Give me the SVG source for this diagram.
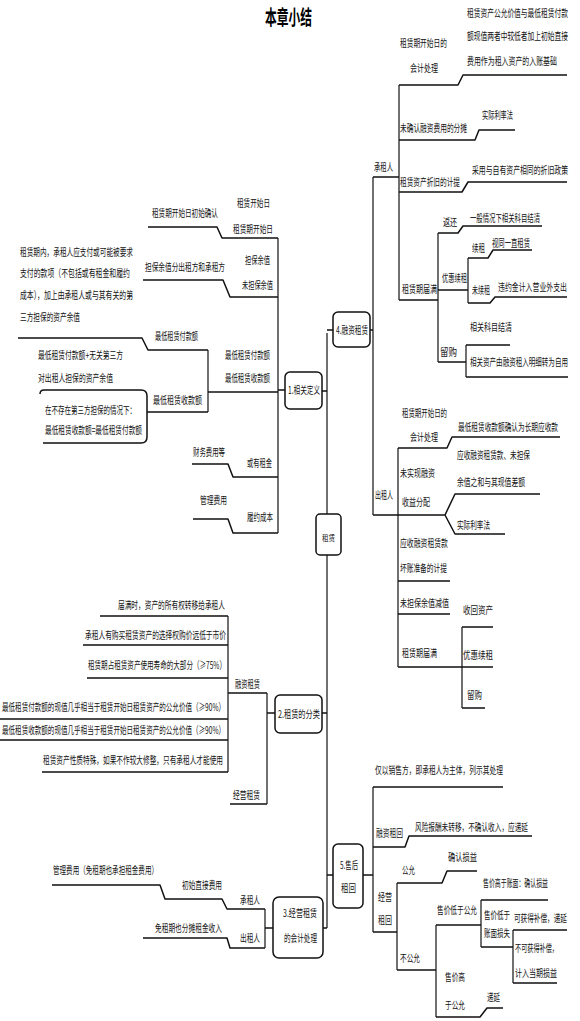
<svg xmlns="http://www.w3.org/2000/svg" width="580" height="1021" viewBox="0 0 580 1021">
<style>
.t{font-family:"Noto Sans CJK SC","Noto Sans",sans-serif;font-size:10.5px;fill:#111;dominant-baseline:central;transform-box:fill-box;transform-origin:left center;transform:scaleX(0.64)}
.h{font-family:"Noto Sans CJK SC","Noto Sans",sans-serif;font-size:20px;font-weight:bold;fill:#000;dominant-baseline:central;transform-box:fill-box;transform-origin:left center;transform:scaleX(0.64)}
.c{fill:none;stroke:#111;stroke-width:1.5;stroke-linejoin:round}
.v{fill:none;stroke:#111;stroke-width:1.2}
.b{fill:#fff;stroke:#111;stroke-width:1.5}
</style>
<rect width="580" height="1021" fill="#fff"/>
<text class="h" x="265" y="17" textLength="73.4" lengthAdjust="spacingAndGlyphs">本章小结</text>

<g id="connectors">
<path class="v" d="M327,333V928"/>
<path class="c" d="M322,391H327M327,330H333M322,713H327M327,875H333M323,928H327"/>
<path class="c" d="M370,330H373"/>
<path class="v" d="M373,177V515"/>
<path class="c" d="M373,177H399M373,515H398"/>
<path class="v" d="M399,85V300"/>
<path class="c" d="M399,85H458L463,75H567"/>
<path class="c" d="M399,140H475L479,130H515"/>
<path class="c" d="M399,192H462L468,182H567"/>
<path class="c" d="M399,300H438"/>
<path class="v" d="M438,233V362"/>
<path class="c" d="M438,233H458L463,226H542"/>
<path class="c" d="M438,290H468"/>
<path class="v" d="M468,258V303"/>
<path class="c" d="M468,258H488L493,250H532"/>
<path class="c" d="M468,303H490L495,297H567"/>
<path class="c" d="M438,362H466"/>
<path class="v" d="M466,345V377"/>
<path class="c" d="M466,345H510M466,377H568"/>
<path class="v" d="M398,448V667"/>
<path class="c" d="M398,448H447L452,437H560"/>
<path class="c" d="M398,515H445M445,515L455,494H540M445,515L455,534H505"/>
<path class="c" d="M398,581H450M398,614H450M398,667H493"/>
<path class="v" d="M462,627V708"/>
<path class="c" d="M462,627H493M462,708H485"/>
<path class="c" d="M285,390H278"/>
<path class="v" d="M278,238V533"/>
<path class="c" d="M278,238H222L217,227H148"/>
<path class="c" d="M278,297H230L223,280H143"/>
<path class="c" d="M278,392H208"/>
<path class="v" d="M208,350V412"/>
<path class="c" d="M208,350H148L142,338H18M208,412H147"/>
<path class="c" d="M40,394Q40,390 44,390H141Q147,390 147,396V437Q147,443 141,443H43"/>
<path class="c" d="M278,477H233L228,464H192"/>
<path class="c" d="M278,533H233L228,519H193"/>
<path class="c" d="M275,713H267"/>
<path class="v" d="M267,693V804"/>
<path class="c" d="M267,693H228M267,804H230"/>
<path class="v" d="M228,616V772"/>
<path class="c" d="M228,616H100M228,645H83M228,678H87M228,719H0M228,740H0M228,772H42"/>
<path class="c" d="M363,875H373"/>
<path class="v" d="M373,787V932"/>
<path class="c" d="M373,787H503"/>
<path class="c" d="M373,847H405L409,836H532"/>
<path class="c" d="M373,932H397"/>
<path class="v" d="M397,883V970"/>
<path class="c" d="M397,883H442L447,871H477"/>
<path class="c" d="M397,970H436"/>
<path class="v" d="M436,925V1017"/>
<path class="c" d="M436,925H481"/>
<path class="v" d="M481,900V947"/>
<path class="c" d="M481,900H548M481,947H513"/>
<path class="v" d="M513,930V983"/>
<path class="c" d="M513,930H567M513,983H557"/>
<path class="c" d="M436,1017H480L487,1008H503"/>
<path class="c" d="M273,928H265"/>
<path class="v" d="M265,909V948"/>
<path class="c" d="M265,909H227L222,899H165L160,885H52"/>
<path class="c" d="M265,948H230L227,938H143"/>
</g>

<g id="root"><rect class="b" x="316" y="514" width="25" height="41" rx="4"/><text class="t" x="322" y="537" style="font-size:8.5px" textLength="20.3" lengthAdjust="spacingAndGlyphs">租赁</text></g>

<g id="n4"><rect class="b" x="333" y="312" width="37" height="35" rx="5"/><text class="t" x="336" y="330" textLength="50" lengthAdjust="spacingAndGlyphs">4.融资租赁</text></g>
<g id="n4-lessee"><text class="t" x="374" y="167" textLength="29.7" lengthAdjust="spacingAndGlyphs">承租人</text></g>
<g id="n4-l1"><text class="t" x="400" y="43" textLength="73.4" lengthAdjust="spacingAndGlyphs">租赁期开始日的</text><text class="t" x="410" y="68" textLength="43.8" lengthAdjust="spacingAndGlyphs">会计处理</text></g>
<g id="n4-l1a"><text class="t" x="467" y="13" textLength="157.8" lengthAdjust="spacingAndGlyphs">租赁资产公允价值与最低租赁付款</text><text class="t" x="467" y="36" textLength="157.8" lengthAdjust="spacingAndGlyphs">额现值两者中较低者加上初始直接</text><text class="t" x="467" y="61" textLength="140.6" lengthAdjust="spacingAndGlyphs">费用作为租入资产的入账基础</text></g>
<g id="n4-l2"><text class="t" x="400" y="128" textLength="104.7" lengthAdjust="spacingAndGlyphs">未确认融资费用的分摊</text></g>
<g id="n4-l2a"><text class="t" x="482" y="115" textLength="48.4" lengthAdjust="spacingAndGlyphs">实际利率法</text></g>
<g id="n4-l3"><text class="t" x="400" y="182" textLength="93.8" lengthAdjust="spacingAndGlyphs">租赁资产折旧的计提</text></g>
<g id="n4-l3a"><text class="t" x="472" y="170" textLength="150" lengthAdjust="spacingAndGlyphs">采用与自有资产相同的折旧政策</text></g>
<g id="n4-l4"><text class="t" x="402" y="289" textLength="54.7" lengthAdjust="spacingAndGlyphs">租赁期届满</text></g>
<g id="n4-l4a"><text class="t" x="443" y="222" textLength="21.9" lengthAdjust="spacingAndGlyphs">返还</text></g>
<g id="n4-l4a1"><text class="t" x="470" y="218" textLength="109.4" lengthAdjust="spacingAndGlyphs">一般情况下相关科目结清</text></g>
<g id="n4-l4b"><text class="t" x="442" y="278" textLength="39.1" lengthAdjust="spacingAndGlyphs">优惠续租</text></g>
<g id="n4-l4b1"><text class="t" x="472" y="248" textLength="20.3" lengthAdjust="spacingAndGlyphs">续租</text></g>
<g id="n4-l4b1a"><text class="t" x="492" y="243" textLength="59.4" lengthAdjust="spacingAndGlyphs">视同一直租赁</text></g>
<g id="n4-l4b2"><text class="t" x="472" y="290" textLength="28.1" lengthAdjust="spacingAndGlyphs">未续租</text></g>
<g id="n4-l4b2a"><text class="t" x="498" y="287" textLength="107.8" lengthAdjust="spacingAndGlyphs">违约金计入营业外支出</text></g>
<g id="n4-l4c"><text class="t" x="440" y="352" textLength="26.6" lengthAdjust="spacingAndGlyphs">留购</text></g>
<g id="n4-l4c1"><text class="t" x="470" y="327" textLength="65.6" lengthAdjust="spacingAndGlyphs">相关科目结清</text></g>
<g id="n4-l4c2"><text class="t" x="470" y="362" textLength="153.1" lengthAdjust="spacingAndGlyphs">相关资产由融资租入明细转为自用</text></g>

<g id="n4-lessor"><text class="t" x="375" y="495" textLength="28.1" lengthAdjust="spacingAndGlyphs">出租人</text></g>
<g id="n4-r1"><text class="t" x="402" y="413" textLength="70.3" lengthAdjust="spacingAndGlyphs">租赁期开始日的</text><text class="t" x="410" y="437" textLength="43.8" lengthAdjust="spacingAndGlyphs">会计处理</text></g>
<g id="n4-r1a"><text class="t" x="458" y="427" textLength="156.3" lengthAdjust="spacingAndGlyphs">最低租赁收款额确认为长期应收款</text></g>
<g id="n4-r2"><text class="t" x="400" y="473" textLength="54.7" lengthAdjust="spacingAndGlyphs">未实现融资</text><text class="t" x="402" y="502" textLength="43.8" lengthAdjust="spacingAndGlyphs">收益分配</text></g>
<g id="n4-r2a"><text class="t" x="457" y="455" textLength="114.1" lengthAdjust="spacingAndGlyphs">应收融资租赁款、未担保</text><text class="t" x="457" y="482" textLength="106.3" lengthAdjust="spacingAndGlyphs">余值之和与其现值差额</text></g>
<g id="n4-r2b"><text class="t" x="457" y="525" textLength="51.6" lengthAdjust="spacingAndGlyphs">实际利率法</text></g>
<g id="n4-r3"><text class="t" x="400" y="543" textLength="75" lengthAdjust="spacingAndGlyphs">应收融资租赁款</text><text class="t" x="400" y="568" textLength="73.4" lengthAdjust="spacingAndGlyphs">坏账准备的计提</text></g>
<g id="n4-r4"><text class="t" x="400" y="603" textLength="76.6" lengthAdjust="spacingAndGlyphs">未担保余值减值</text></g>
<g id="n4-r5"><text class="t" x="402" y="653" textLength="54.7" lengthAdjust="spacingAndGlyphs">租赁期届满</text></g>
<g id="n4-r5a"><text class="t" x="463" y="610" textLength="46.9" lengthAdjust="spacingAndGlyphs">收回资产</text></g>
<g id="n4-r5b"><text class="t" x="463" y="655" textLength="46.9" lengthAdjust="spacingAndGlyphs">优惠续租</text></g>
<g id="n4-r5c"><text class="t" x="467" y="695" textLength="23.4" lengthAdjust="spacingAndGlyphs">留购</text></g>

<g id="n1"><rect class="b" x="285" y="372" width="37" height="37" rx="5"/><text class="t" x="288" y="390" textLength="50" lengthAdjust="spacingAndGlyphs">1.相关定义</text></g>
<g id="n1-a"><text class="t" x="237" y="203" textLength="51.6" lengthAdjust="spacingAndGlyphs">租赁开始日</text><text class="t" x="233" y="229" textLength="62.5" lengthAdjust="spacingAndGlyphs">租赁期开始日</text></g>
<g id="n1-a1"><text class="t" x="152" y="213" textLength="103.1" lengthAdjust="spacingAndGlyphs">租赁期开始日初始确认</text></g>
<g id="n1-b"><text class="t" x="245" y="260" textLength="39.1" lengthAdjust="spacingAndGlyphs">担保余值</text><text class="t" x="242" y="285" textLength="48.4" lengthAdjust="spacingAndGlyphs">未担保余值</text></g>
<g id="n1-b1"><text class="t" x="145" y="267" textLength="125" lengthAdjust="spacingAndGlyphs">担保余值分出租方和承租方</text></g>
<g id="n1-c"><text class="t" x="225" y="355" textLength="70.3" lengthAdjust="spacingAndGlyphs">最低租赁付款额</text><text class="t" x="225" y="378" textLength="70.3" lengthAdjust="spacingAndGlyphs">最低租赁收款额</text></g>
<g id="n1-c1"><text class="t" x="155" y="336" textLength="67.2" lengthAdjust="spacingAndGlyphs">最低租赁付款额</text></g>
<g id="n1-c1a"><text class="t" x="20" y="252" textLength="176.6" lengthAdjust="spacingAndGlyphs">租赁期内，承租人应支付或可能被要求</text><text class="t" x="20" y="273" textLength="171.9" lengthAdjust="spacingAndGlyphs">支付的款项（不包括或有租金和履约</text><text class="t" x="20" y="295" textLength="176.6" lengthAdjust="spacingAndGlyphs">成本），加上由承租人或与其有关的第</text><text class="t" x="20" y="317" textLength="93.8" lengthAdjust="spacingAndGlyphs">三方担保的资产余值</text></g>
<g id="n1-c2"><text class="t" x="153" y="400" textLength="76.6" lengthAdjust="spacingAndGlyphs">最低租赁收款额</text></g>
<g id="n1-c2a"><text class="t" x="38" y="355" textLength="132.8" lengthAdjust="spacingAndGlyphs">最低租赁付款额+无关第三方</text><text class="t" x="38" y="378" textLength="117.2" lengthAdjust="spacingAndGlyphs">对出租人担保的资产余值</text></g>
<g id="n1-c2b"><text class="t" x="45" y="410" textLength="142.2" lengthAdjust="spacingAndGlyphs">在不存在第三方担保的情况下：</text><text class="t" x="45" y="430" textLength="151.6" lengthAdjust="spacingAndGlyphs">最低租赁收款额=最低租赁付款额</text></g>
<g id="n1-d"><text class="t" x="247" y="463" textLength="39.1" lengthAdjust="spacingAndGlyphs">或有租金</text></g>
<g id="n1-d1"><text class="t" x="193" y="452" textLength="50" lengthAdjust="spacingAndGlyphs">财务费用等</text></g>
<g id="n1-e"><text class="t" x="247" y="517" textLength="40.6" lengthAdjust="spacingAndGlyphs">履约成本</text></g>
<g id="n1-e1"><text class="t" x="200" y="500" textLength="42.2" lengthAdjust="spacingAndGlyphs">管理费用</text></g>

<g id="n2"><rect class="b" x="275" y="695" width="47" height="38" rx="5"/><text class="t" x="278" y="714" textLength="65.6" lengthAdjust="spacingAndGlyphs">2.租赁的分类</text></g>
<g id="n2-a"><text class="t" x="235" y="684" textLength="39.1" lengthAdjust="spacingAndGlyphs">融资租赁</text></g>
<g id="n2-b"><text class="t" x="233" y="795" textLength="42.2" lengthAdjust="spacingAndGlyphs">经营租赁</text></g>
<g id="n2-a1"><text class="t" x="118" y="605" textLength="167.2" lengthAdjust="spacingAndGlyphs">届满时，资产的所有权转移给承租人</text></g>
<g id="n2-a2"><text class="t" x="85" y="635" textLength="220.3" lengthAdjust="spacingAndGlyphs">承租人有购买租赁资产的选择权购价远低于市价</text></g>
<g id="n2-a3"><text class="t" x="88" y="665" textLength="215.6" lengthAdjust="spacingAndGlyphs">租赁期占租赁资产使用寿命的大部分（≥75%）</text></g>
<g id="n2-a4"><text class="t" x="2" y="707" textLength="348.4" lengthAdjust="spacingAndGlyphs">最低租赁付款额的现值几乎相当于租赁开始日租赁资产的公允价值（≥90%）</text></g>
<g id="n2-a5"><text class="t" x="2" y="730" textLength="348.4" lengthAdjust="spacingAndGlyphs">最低租赁收款额的现值几乎相当于租赁开始日租赁资产的公允价值（≥90%）</text></g>
<g id="n2-a6"><text class="t" x="43" y="760" textLength="281.3" lengthAdjust="spacingAndGlyphs">租赁资产性质特殊，如果不作较大修整，只有承租人才能使用</text></g>

<g id="n5"><rect class="b" x="333" y="844" width="30" height="64" rx="5"/><text class="t" x="340" y="865" textLength="28.1" lengthAdjust="spacingAndGlyphs">5.售后</text><text class="t" x="341" y="888" textLength="23.4" lengthAdjust="spacingAndGlyphs">租回</text></g>
<g id="n5-a"><text class="t" x="375" y="770" textLength="200" lengthAdjust="spacingAndGlyphs">仅以销售方，即承租人为主体，列示其处理</text></g>
<g id="n5-b"><text class="t" x="376" y="833" textLength="42.2" lengthAdjust="spacingAndGlyphs">融资租回</text></g>
<g id="n5-b1"><text class="t" x="415" y="827" textLength="176.6" lengthAdjust="spacingAndGlyphs">风险报酬未转移，不确认收入，应递延</text></g>
<g id="n5-c"><text class="t" x="378" y="897" textLength="21.9" lengthAdjust="spacingAndGlyphs">经营</text><text class="t" x="378" y="920" textLength="21.9" lengthAdjust="spacingAndGlyphs">租回</text></g>
<g id="n5-c1"><text class="t" x="402" y="870" textLength="20.3" lengthAdjust="spacingAndGlyphs">公允</text></g>
<g id="n5-c1a"><text class="t" x="448" y="857" textLength="45.3" lengthAdjust="spacingAndGlyphs">确认损益</text></g>
<g id="n5-c2"><text class="t" x="400" y="958" textLength="31.3" lengthAdjust="spacingAndGlyphs">不公允</text></g>
<g id="n5-c2a"><text class="t" x="437" y="910" textLength="62.5" lengthAdjust="spacingAndGlyphs">售价低于公允</text></g>
<g id="n5-c2a1"><text class="t" x="483" y="883" textLength="101.6" lengthAdjust="spacingAndGlyphs">售价高于账面：确认损益</text></g>
<g id="n5-c2a2"><text class="t" x="484" y="915" textLength="40.6" lengthAdjust="spacingAndGlyphs">售价低于</text><text class="t" x="484" y="933" textLength="40.6" lengthAdjust="spacingAndGlyphs">账面损失</text></g>
<g id="n5-c2a2a"><text class="t" x="514" y="918" textLength="82.8" lengthAdjust="spacingAndGlyphs">可获得补偿，递延</text></g>
<g id="n5-c2a2b"><text class="t" x="515" y="948" textLength="67.2" lengthAdjust="spacingAndGlyphs">不可获得补偿，</text><text class="t" x="515" y="973" textLength="65.6" lengthAdjust="spacingAndGlyphs">计入当期损益</text></g>
<g id="n5-c2b"><text class="t" x="445" y="977" textLength="31.3" lengthAdjust="spacingAndGlyphs">售价高</text><text class="t" x="445" y="1005" textLength="31.3" lengthAdjust="spacingAndGlyphs">于公允</text></g>
<g id="n5-c2b1"><text class="t" x="487" y="997" textLength="20.3" lengthAdjust="spacingAndGlyphs">递延</text></g>

<g id="n3"><rect class="b" x="273" y="897" width="50" height="61" rx="6"/><text class="t" x="283" y="913" textLength="53.1" lengthAdjust="spacingAndGlyphs">3.经营租赁</text><text class="t" x="284" y="938" textLength="51.6" lengthAdjust="spacingAndGlyphs">的会计处理</text></g>
<g id="n3-a"><text class="t" x="240" y="900" textLength="31.3" lengthAdjust="spacingAndGlyphs">承租人</text></g>
<g id="n3-a1"><text class="t" x="182" y="885" textLength="62.5" lengthAdjust="spacingAndGlyphs">初始直接费用</text></g>
<g id="n3-a1a"><text class="t" x="53" y="870" textLength="164.1" lengthAdjust="spacingAndGlyphs">管理费用（免租期也承担租金费用）</text></g>
<g id="n3-b"><text class="t" x="240" y="938" textLength="31.3" lengthAdjust="spacingAndGlyphs">出租人</text></g>
<g id="n3-b1"><text class="t" x="155" y="928" textLength="104.7" lengthAdjust="spacingAndGlyphs">免租期也分摊租金收入</text></g>
</svg>
